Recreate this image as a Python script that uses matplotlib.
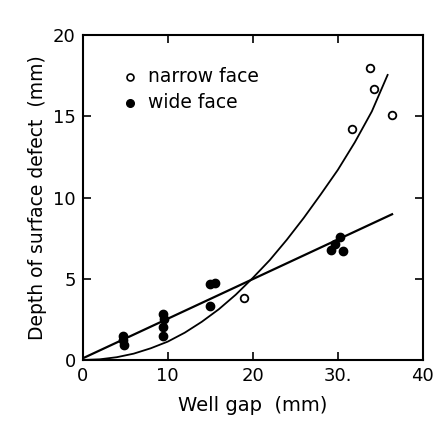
import matplotlib
matplotlib.use("Agg")
import matplotlib.pyplot as plt

# narrow face (open circles)
narrow_x = [19.0, 31.7, 33.8, 34.3, 36.4]
narrow_y = [3.8, 14.2, 17.95, 16.7, 15.1]

# wide face (filled circles)
wide_x = [4.7, 4.7, 4.8, 9.5, 9.6, 9.4, 9.5, 15.0, 15.6, 15.0, 29.2, 29.7, 30.2, 30.6]
wide_y = [1.5, 1.2, 0.95, 2.8, 2.55, 2.05, 1.45, 4.7, 4.75, 3.35, 6.75, 7.15, 7.6, 6.7]

# fitted curves
curve_x = [0, 2, 4, 6, 8, 10, 12, 14, 16, 18, 20, 22, 24, 26, 28, 30, 32, 34, 35.9]
curve_y = [0, 0.04, 0.17, 0.39, 0.72, 1.13, 1.68, 2.35, 3.12, 4.02, 5.05, 6.15, 7.4, 8.75, 10.2, 11.7, 13.4, 15.3, 17.6]
line_x = [0, 36.5]
line_y = [0.1, 9.0]

xticks = [0, 10, 20, 30, 40]
xtick_labels = ["0", "10", "20", "30.", "40"]
yticks = [0, 5, 10, 15, 20]
ytick_labels = ["0", "5", "10", "15", "20"]

fig = plt.figure(figsize=(4.40, 4.23), dpi=100)
ax = fig.add_axes([0.188, 0.149, 0.773, 0.768])

ax.plot(curve_x, curve_y, color="black", lw=1.3, solid_capstyle="butt")
ax.plot(line_x, line_y, color="black", lw=1.6, solid_capstyle="butt")
ax.plot(narrow_x, narrow_y, linestyle="none", marker="o", ms=5.5,
        mfc="white", mec="black", mew=1.3, clip_on=False)
ax.plot(wide_x, wide_y, linestyle="none", marker="o", ms=6,
        mfc="black", mec="black", clip_on=False)

ax.set_xlim(0, 40)
ax.set_ylim(0, 20)
ax.set_xticks(xticks)
ax.set_xticklabels(xtick_labels)
ax.set_yticks(yticks)
ax.set_yticklabels(ytick_labels)
ax.tick_params(direction="in", length=6, width=1.2, labelsize=13,
               top=True, right=True, pad=5)
for s in ax.spines.values():
    s.set_linewidth(1.5)

ax.set_xlabel("Well gap  (mm)", fontsize=14, labelpad=8)
ax.set_ylabel("Depth of surface defect  (mm)", fontsize=13.5, labelpad=4)

# legend drawn manually
ax.plot([5.6], [17.4], linestyle="none", marker="o", ms=5, mfc="white",
        mec="black", mew=1.2)
ax.plot([5.6], [15.8], linestyle="none", marker="o", ms=5.5, mfc="black",
        mec="black")
ax.text(7.7, 17.45, "narrow face", fontsize=13.5, va="center", ha="left")
ax.text(7.7, 15.85, "wide face", fontsize=13.5, va="center", ha="left")

fig.savefig("out.png", dpi=100)
